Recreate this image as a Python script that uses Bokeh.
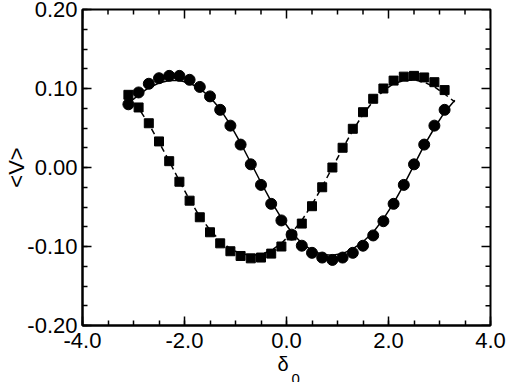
from bokeh.plotting import figure
from bokeh.models import LinearAxis, FixedTicker, Range1d, Title
from bokeh.embed import file_html
from bokeh.resources import INLINE

# ---- data ----
x_pts = [-3.1, -2.9, -2.7, -2.5, -2.3, -2.1, -1.9, -1.7, -1.5, -1.3, -1.1, -0.9,
         -0.7, -0.5, -0.3, -0.1, 0.1, 0.3, 0.5, 0.7, 0.9, 1.1, 1.3, 1.5, 1.7,
         1.9, 2.1, 2.3, 2.5, 2.7, 2.9, 3.1]
circle_v = [0.080, 0.095, 0.106, 0.113, 0.116, 0.116, 0.111, 0.102, 0.090, 0.073,
            0.053, 0.029, 0.004, -0.022, -0.046, -0.067, -0.085, -0.099, -0.108,
            -0.114, -0.117, -0.114, -0.108, -0.099, -0.086, -0.068, -0.046, -0.022,
            0.004, 0.029, 0.053, 0.073]
square_v = [0.092, 0.076, 0.056, 0.033, 0.008, -0.018, -0.042, -0.063, -0.082, -0.096,
            -0.106, -0.112, -0.115, -0.114, -0.109, -0.100, -0.086, -0.071, -0.049,
            -0.025, 0.000, 0.025, 0.049, 0.070, 0.087, 0.100, 0.110, 0.115, 0.116,
            0.114, 0.108, 0.098]

line_x = [-3.1, -2.9, -2.7, -2.5, -2.3, -2.1, -1.9, -1.7, -1.5, -1.3, -1.1, -0.9,
          -0.7, -0.5, -0.3, -0.1, 0.1, 0.3, 0.5, 0.7, 0.9, 1.1, 1.3, 1.5, 1.7,
          1.9, 2.1, 2.3, 2.5, 2.7, 2.9, 3.1, 3.3]
solid_v = [0.081, 0.092, 0.101, 0.107, 0.110, 0.110, 0.107, 0.100, 0.089, 0.074,
           0.054, 0.031, 0.006, -0.019, -0.043, -0.064, -0.082, -0.096, -0.105,
           -0.110, -0.111, -0.109, -0.103, -0.094, -0.082, -0.065, -0.045, -0.022,
           0.003, 0.028, 0.050, 0.070, 0.085]
dashed_v = [0.090, 0.075, 0.055, 0.032, 0.008, -0.017, -0.041, -0.062, -0.079, -0.093,
            -0.103, -0.109, -0.111, -0.110, -0.105, -0.096, -0.083, -0.067, -0.047,
            -0.024, 0.000, 0.024, 0.047, 0.067, 0.084, 0.097, 0.106, 0.110, 0.111,
            0.108, 0.102, 0.093, 0.083]

x_ticks = [-4, -2, 0, 2, 4]
x_tick_labels = ["-4.0", "-2.0", "0.0", "2.0", "4.0"]
y_ticks = [-0.2, -0.1, 0, 0.1, 0.2]
y_tick_labels = ["-0.20", "-0.10", "0.00", "0.10", "0.20"]
y_title = "<V>"
x_title_main = "\u03b4"
x_title_sub = "0"

FONT = "Liberation Sans"
X0, X1, Y0, Y1 = -4, 4, -0.2, 0.2
W, H = 507, 382
BL, BR, BT, BB = 82, 17, 9, 57

p = figure(width=W, height=H, output_backend="svg", toolbar_location=None,
           x_range=Range1d(X0, X1), y_range=Range1d(Y0, Y1),
           min_border_left=BL, min_border_right=BR, min_border_top=BT,
           min_border_bottom=BB, x_axis_location=None, y_axis_location=None)
p.grid.visible = False
p.outline_line_color = "black"
p.outline_line_width = 2
p.background_fill_color = "white"
p.border_fill_color = "white"

x_minor = [X0 + 0.5 * i for i in range(17)]
y_minor = [Y0 + 0.025 * i for i in range(17)]


def make_axis(ticks, minor, labels):
    ax = LinearAxis(ticker=FixedTicker(ticks=ticks, minor_ticks=minor))
    ax.major_label_overrides = {t: l for t, l in zip(ticks, labels)}
    ax.axis_line_color = "black"
    ax.axis_line_width = 2
    ax.major_tick_line_width = 1.5
    ax.minor_tick_line_width = 1.5
    ax.major_tick_in = 9
    ax.major_tick_out = 0
    ax.minor_tick_in = 5
    ax.minor_tick_out = 0
    ax.major_label_text_font = FONT
    ax.major_label_text_color = "black"
    ax.major_label_text_font_size = "22px"
    return ax


bx = make_axis(x_ticks, x_minor, x_tick_labels)
bx.major_label_standoff = 7
ly = make_axis(y_ticks, y_minor, y_tick_labels)
ly.major_label_standoff = 5
p.add_layout(bx, "below")
p.add_layout(ly, "left")

# tick marks on the top and right frame edges (inward), no labels
fw = W - BL - BR
fh = H - BT - BB
dx_per_px = (X1 - X0) / fw
dy_per_px = (Y1 - Y0) / fh
x_minor_only = [m for m in x_minor if m not in x_ticks]
y_minor_only = [m for m in y_minor if all(abs(m - t) > 1e-9 for t in y_ticks)]
p.segment(x0=x_ticks, y0=[Y1] * len(x_ticks), x1=x_ticks,
          y1=[Y1 - 9 * dy_per_px] * len(x_ticks), line_color="black", line_width=1.5)
p.segment(x0=x_minor_only, y0=[Y1] * len(x_minor_only), x1=x_minor_only,
          y1=[Y1 - 5 * dy_per_px] * len(x_minor_only), line_color="black", line_width=1.5)
p.segment(x0=[X1] * len(y_ticks), y0=y_ticks, x1=[X1 - 9 * dx_per_px] * len(y_ticks),
          y1=y_ticks, line_color="black", line_width=1.5)
p.segment(x0=[X1] * len(y_minor_only), y0=y_minor_only,
          x1=[X1 - 5 * dx_per_px] * len(y_minor_only), y1=y_minor_only,
          line_color="black", line_width=1.5)

p.line(line_x, solid_v, line_color="black", line_width=1.5)
p.line(line_x, dashed_v, line_color="black", line_width=1.5, line_dash="6 4")
p.scatter(x_pts, circle_v, marker="circle", size=11, fill_color="black", line_color="black")
p.scatter(x_pts, square_v, marker="square", size=9, fill_color="black", line_color="black")

# axis titles
yt = Title(text=y_title, align="center", text_font=FONT, text_font_size="22px",
           text_font_style="normal", text_color="black", standoff=-9)
p.add_layout(yt, "left")
xt = Title(text=x_title_main, align="left", offset=195, text_font=FONT,
           text_font_size="20px", text_font_style="normal", text_color="black", standoff=1)
p.add_layout(xt, "below")
xs = Title(text=x_title_sub, align="left", offset=209, text_font=FONT,
           text_font_size="15px", text_font_style="normal", text_color="black", standoff=-17)
p.add_layout(xs, "below")

open("out.html", "w").write(file_html(p, INLINE))
